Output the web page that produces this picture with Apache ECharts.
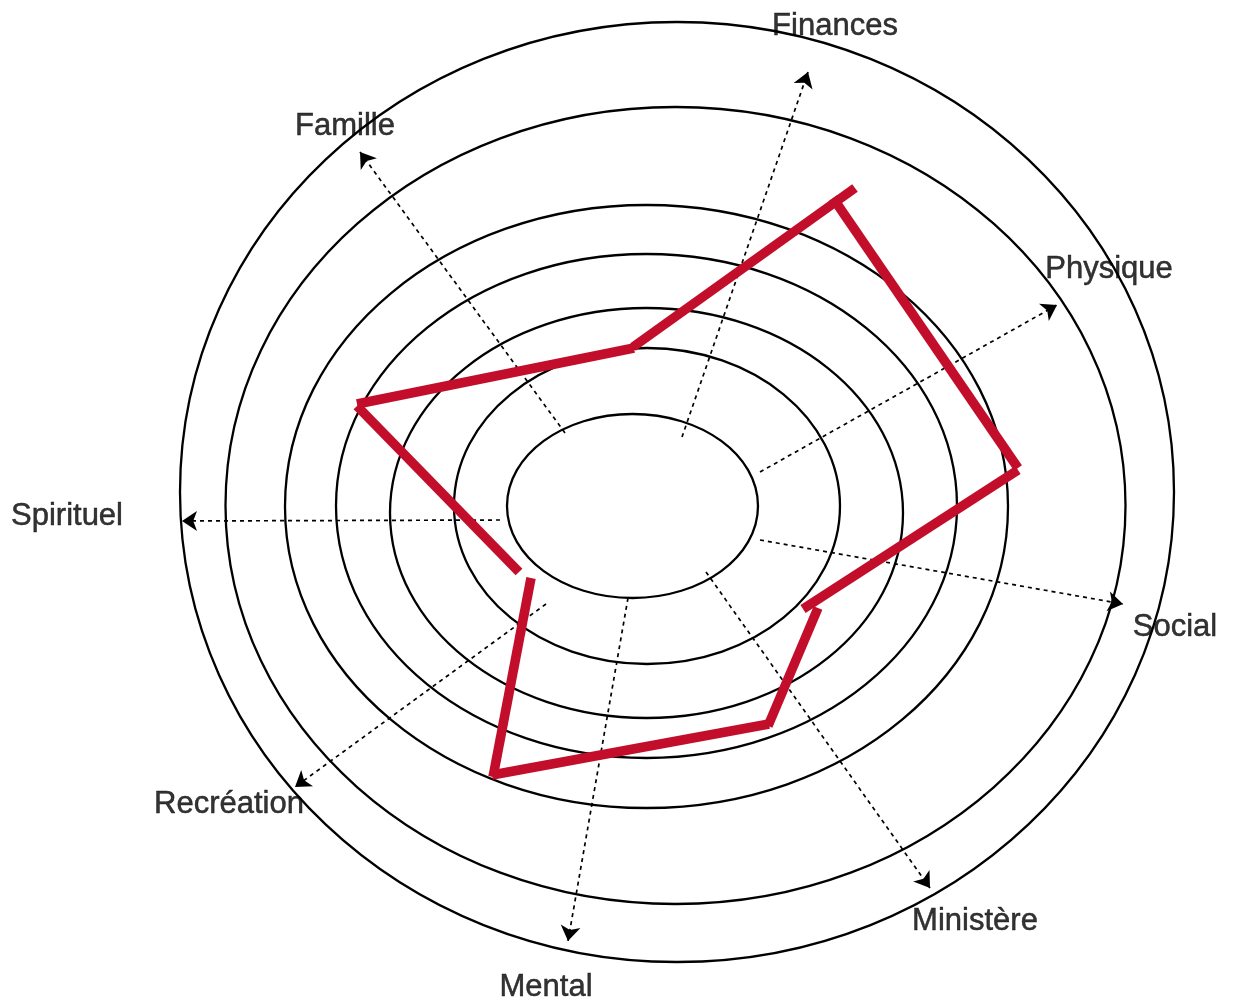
<!DOCTYPE html>
<html>
<head>
<meta charset="utf-8">
<script src="https://cdn.jsdelivr.net/npm/echarts@6/dist/echarts.min.js"></script>
<style>
html,body{margin:0;padding:0;background:#fff;}
#chart{width:1235px;height:1007px;}
</style>
</head>
<body>
<div id="chart"></div>
<script>
// Wheel rings: centre x, centre y, radius x, radius y (chart units)
const ringCx = [677, 675.5, 646.5, 646.5, 646.5, 647, 632.5];
const ringCy = [492, 505.5, 506.5, 506, 513, 506, 506];
const ringRx = [497, 450, 361.5, 310.5, 256.5, 193, 125.5];
const ringRy = [470, 398.5, 301.5, 252, 205, 158, 92];

// Axis categories with arrow start / end points and label anchor
const categories = ['Finances', 'Famille', 'Physique', 'Spirituel', 'Social', 'Ministère', 'Mental', 'Recréation'];
const axisStart = [[682, 437], [565, 433], [760, 472], [500, 520], [760, 540], [706, 572], [628, 598], [546, 604]];
const axisEnd = [[808, 72], [360, 152], [1057, 305], [182, 521], [1123, 604], [930, 888], [568, 941], [295, 787]];
const labelPos = [[835, 26], [345, 126], [1109, 269], [67, 516], [1175, 627], [975, 921], [546, 987], [229, 804]];

// Score polyline segments (as drawn, separate strokes)
const scoreFrom = [[519, 572], [357, 404], [633, 347], [833, 198], [1018, 470], [818, 608], [769, 724], [493, 777]];
const scoreTo = [[357, 406], [634, 348], [855, 188], [1018, 468], [803, 609], [768, 726], [492, 775], [531, 578]];

const ringData = ringCx.map((cx, i) => [cx, ringCy[i], ringRx[i], ringRy[i]]);
const axisData = categories.map((n, i) => ({ name: n, coords: [axisStart[i], axisEnd[i]] }));
const labelData = categories.map((n, i) => ({ name: n, value: labelPos[i] }));
const scoreData = scoreFrom.map((p, i) => ({ coords: [p, scoreTo[i]] }));

const chart = echarts.init(document.getElementById('chart'));
chart.setOption({
  animation: false,
  backgroundColor: '#ffffff',
  grid: { left: 0, right: 0, top: 0, bottom: 0 },
  xAxis: { type: 'value', min: 0, max: 1235, show: false },
  yAxis: { type: 'value', min: 0, max: 1007, inverse: true, show: false },
  series: [
    {
      type: 'custom',
      coordinateSystem: 'cartesian2d',
      data: ringData,
      silent: true,
      renderItem: function (params, api) {
        const c = api.coord([api.value(0), api.value(1)]);
        const s = api.size([api.value(2), api.value(3)], [api.value(0), api.value(1)]);
        return {
          type: 'ellipse',
          shape: { cx: c[0], cy: c[1], rx: s[0], ry: s[1] },
          style: { fill: null, stroke: '#000000', lineWidth: 2.3 }
        };
      },
      z: 1
    },
    {
      type: 'lines',
      coordinateSystem: 'cartesian2d',
      data: axisData,
      symbol: ['none', 'arrow'],
      symbolSize: 15,
      lineStyle: { color: '#000000', width: 1.7, type: [4, 4], opacity: 1 },
      silent: true,
      z: 2
    },
    {
      type: 'lines',
      coordinateSystem: 'cartesian2d',
      data: scoreData,
      symbol: ['none', 'none'],
      lineStyle: { color: '#C20E2A', width: 9.5, opacity: 1, cap: 'butt' },
      silent: true,
      z: 3
    },
    {
      type: 'scatter',
      data: labelData,
      symbolSize: 0,
      silent: true,
      itemStyle: { color: '#000000' },
      label: {
        show: true,
        position: 'inside',
        formatter: '{b}',
        color: '#000000',
        textBorderColor: '#000000',
        textBorderWidth: 0.5,
        fontFamily: 'Liberation Sans, Arial, sans-serif',
        fontSize: 31,
        align: 'center',
        verticalAlign: 'middle'
      },
      z: 4
    }
  ]
});
</script>
</body>
</html>
